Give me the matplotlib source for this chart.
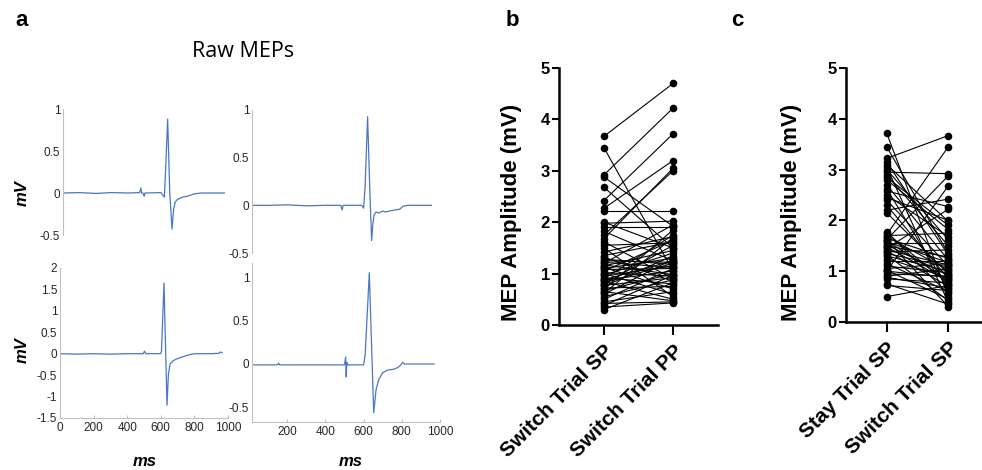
import matplotlib
matplotlib.use("Agg")
import matplotlib.pyplot as plt
import numpy as np

# ---------------- data ----------------
# Raw MEP traces (vertices): time in ms, amplitude in mV
tl_ms = [0, 100, 200, 300, 400, 470, 478, 482, 490, 498, 502, 510, 600, 615, 622, 630,
         642, 655, 669, 678, 688, 700, 731, 760, 806, 850, 990]
tl_mv = [0, 0.005, -0.005, 0.005, 0, 0.005, 0.06, 0.0, 0.0, -0.04, 0.0, 0, 0.005, -0.03,
         -0.05, 0.3, 0.88, 0.0, -0.43, -0.2, -0.11, -0.08, -0.05, -0.04, -0.01, 0.0, 0.0]

tr_ms = [20, 100, 200, 300, 400, 480, 488, 492, 500, 590, 600, 608, 621, 632, 642, 648,
         655, 665, 680, 700, 715, 735, 760, 790, 800, 806, 830, 955]
tr_mv = [0, 0.0, 0.005, -0.005, 0.0, 0.0, -0.05, 0.0, 0.0, 0.0, -0.03, 0.2, 0.93, 0.2,
         -0.37, -0.2, -0.1, -0.07, -0.08, -0.06, -0.07, -0.06, -0.05, -0.04, -0.02, -0.01,
         0.0, 0.0]

bl_ms = [0, 100, 200, 300, 400, 495, 503, 510, 598, 604, 619, 628, 637, 645, 655, 675,
         696, 732, 774, 800, 900, 945, 955, 965]
bl_mv = [0, -0.01, 0.0, -0.01, 0.0, 0.0, 0.06, 0.0, 0.0, 0.05, 1.65, 0.2, -1.2, -0.5,
         -0.24, -0.16, -0.12, -0.07, -0.02, 0.0, 0.0, 0.01, 0.04, 0.02]

br_ms = [20, 150, 155, 160, 300, 400, 500, 506, 509, 512, 515, 600, 608, 630, 642, 653,
         665, 679, 700, 726, 758, 780, 795, 805, 812, 830, 968]
br_mv = [-0.01, -0.01, 0.01, -0.01, -0.01, -0.01, -0.01, 0.08, -0.15, 0.02, -0.01, -0.01,
         0.1, 1.05, 0.2, -0.56, -0.3, -0.18, -0.1, -0.07, -0.06, -0.04, -0.01, 0.02, 0.0,
         0.0, 0.0]

# Per-subject MEP amplitudes (mV)
switch_sp = [3.67, 3.45, 2.92, 2.88, 2.68, 2.42, 2.27, 2.22, 1.98, 1.82, 1.75, 1.68, 1.62,
             1.55, 1.50, 1.42, 1.32, 1.28, 1.25, 1.22, 1.20, 1.17, 1.15, 1.12, 1.10, 1.08,
             1.05, 1.02, 1.00, 0.97, 0.95, 0.92, 0.90, 0.87, 0.85, 0.82, 0.80, 0.77, 0.75,
             0.72, 0.70, 0.67, 0.65, 0.60, 0.55, 0.50, 0.45, 0.42, 0.38, 0.35, 0.30, 1.35,
             1.90, 2.00, 0.62, 0.88]
switch_pp = [4.70, 1.05, 4.22, 1.92, 1.50, 3.72, 3.20, 2.22, 2.02, 1.25, 3.00, 3.05, 0.90,
             1.60, 0.55, 1.72, 0.85, 1.18, 1.22, 1.12, 1.95, 0.98, 1.45, 0.70, 1.30, 1.10,
             1.65, 0.95, 0.60, 1.40, 1.15, 0.80, 1.75, 1.05, 0.50, 1.20, 1.55, 0.92, 1.35,
             0.75, 1.85, 1.00, 0.47, 1.28, 0.88, 1.10, 0.65, 0.45, 0.97, 0.43, 0.82, 1.62,
             1.90, 1.50, 1.70, 1.25]
stay_sp = [3.22, 1.72, 2.95, 1.62, 1.00, 2.20, 2.58, 1.45, 3.10, 2.80, 1.70, 2.50, 3.00,
           1.55, 2.90, 1.38, 3.15, 1.50, 1.65, 2.70, 1.20, 1.58, 1.05, 1.42, 2.40, 1.35,
           0.90, 1.68, 1.30, 1.10, 2.15, 1.52, 0.95, 1.25, 2.30, 1.60, 1.48, 0.85, 1.75,
           0.50, 1.40, 0.88, 2.62, 1.15, 1.78, 3.72, 1.02, 1.32, 3.05, 0.75, 1.62, 3.45,
           2.85, 2.45, 0.72, 1.00]

b_labels = ["Switch Trial SP", "Switch Trial PP"]
c_labels = ["Stay Trial SP", "Switch Trial SP"]

# ---------------- figure ----------------
W, H = 982, 470
fig = plt.figure(figsize=(W / 100, H / 100), dpi=100)

def px_axes(left, top, right, bottom):
    return fig.add_axes([left / W, (H - bottom) / H, (right - left) / W, (bottom - top) / H])

trace_col = "#4a76c6"
spine_col = "#c0c0c0"
tick_txt = "#262626"
mfont = "Liberation Sans"

def matlab_style(ax, xaxis):
    for s in ["top", "right"]:
        ax.spines[s].set_visible(False)
    ax.spines["left"].set_color(spine_col)
    ax.spines["left"].set_linewidth(0.8)
    if xaxis:
        ax.spines["bottom"].set_color(spine_col)
        ax.spines["bottom"].set_linewidth(0.8)
    else:
        ax.spines["bottom"].set_visible(False)
        ax.set_xticks([])
    ax.tick_params(axis="y", length=0, pad=2, labelsize=8.5, labelcolor=tick_txt)
    ax.tick_params(axis="x", direction="in", length=2.5, color=spine_col, pad=3,
                   labelsize=8.5, labelcolor=tick_txt)
    for lab in ax.get_xticklabels() + ax.get_yticklabels():
        lab.set_fontfamily(mfont)
    ax.patch.set_alpha(0)

def fmt(v):
    return "%g" % v

# top-left
ax1 = px_axes(63, 109, 226, 235)
ax1.plot(tl_ms, tl_mv, color=trace_col, lw=0.9)
ax1.set_xlim(0, 1000)
ax1.set_ylim(-0.5, 1)
ax1.set_yticks([-0.5, 0, 0.5, 1])
ax1.set_yticklabels([fmt(v) for v in [-0.5, 0, 0.5, 1]])
matlab_style(ax1, False)

# top-right
ax2 = px_axes(252, 110, 440, 253)
ax2.plot(tr_ms, tr_mv, color=trace_col, lw=0.9)
ax2.set_xlim(15.8, 1000)
ax2.set_ylim(-0.5, 1)
ax2.set_yticks([-0.5, 0, 0.5, 1])
ax2.set_yticklabels([fmt(v) for v in [-0.5, 0, 0.5, 1]])
matlab_style(ax2, False)

# bottom-left
ax3 = px_axes(60, 268, 228, 418)
ax3.plot(bl_ms, bl_mv, color=trace_col, lw=0.9)
ax3.set_xlim(0, 1000)
ax3.set_ylim(-1.5, 2)
yt = [-1.5, -1, -0.5, 0, 0.5, 1, 1.5, 2]
ax3.set_yticks(yt)
ax3.set_yticklabels([fmt(v) for v in yt])
ax3.set_xticks([0, 200, 400, 600, 800, 1000])
matlab_style(ax3, True)

# bottom-right
ax4 = px_axes(252, 263, 440, 422)
ax4.plot(br_ms, br_mv, color=trace_col, lw=0.9)
ax4.set_xlim(15.8, 1000)
ax4.set_ylim(-0.667, 1.161)
yt = [-0.5, 0, 0.5, 1]
ax4.set_yticks(yt)
ax4.set_yticklabels([fmt(v) for v in yt])
ax4.set_xticks([200, 400, 600, 800, 1000])
matlab_style(ax4, True)

# panel a annotations
fig.text(243 / W, 1 - 52 / H, "Raw MEPs", ha="center", va="center",
         fontsize=15.5, family="Open Sans")
for yy in (193, 350):
    fig.text(22 / W, 1 - yy / H, "mV", rotation=90, ha="center", va="center",
             fontsize=12, fontweight="bold", fontstyle="italic", family=mfont)
for xx in (145, 351):
    fig.text(xx / W, 1 - 461 / H, "ms", ha="center", va="center",
             fontsize=12, fontweight="bold", fontstyle="italic", family=mfont)

for lab, xx in (("a", 22), ("b", 512), ("c", 737)):
    fig.text(xx / W, 1 - 21 / H, lab, ha="center", va="center",
             fontsize=16, fontweight="bold", family=mfont)

# paired plots
def paired(ax, left_vals, right_vals, labels, xlim):
    for a, b in zip(left_vals, right_vals):
        ax.plot([0, 1], [a, b], color="black", lw=0.8, zorder=2)
    ax.scatter(np.zeros(len(left_vals)), left_vals, s=30, color="black", zorder=3,
               linewidths=0)
    ax.scatter(np.ones(len(right_vals)), right_vals, s=30, color="black", zorder=3,
               linewidths=0)
    ax.set_xlim(*xlim)
    ax.set_ylim(0, 5)
    ax.set_yticks([0, 1, 2, 3, 4, 5])
    ax.set_xticks([0, 1])
    ax.set_xticklabels(labels, rotation=45, ha="right", va="top",
                       rotation_mode="anchor", fontsize=15, fontweight="bold",
                       family=mfont)
    for s in ["top", "right"]:
        ax.spines[s].set_visible(False)
    for s in ["left", "bottom"]:
        ax.spines[s].set_linewidth(1.8)
    ax.tick_params(axis="y", length=5, width=1.5, pad=1.5, labelsize=12)
    ax.tick_params(axis="x", length=7, width=1.5, pad=5)
    for lab in ax.get_yticklabels():
        lab.set_fontweight("bold")
        lab.set_fontfamily(mfont)
    ax.patch.set_alpha(0)
    for sp in ax.spines.values():
        sp.set_clip_on(False)

axb = px_axes(559, 68, 718, 325)
paired(axb, switch_sp, switch_pp, b_labels, (-0.65, 1.65))
axc = px_axes(846, 68, 981, 322)
paired(axc, stay_sp, switch_sp, c_labels, (-0.66, 1.53))

for xx in (512, 792):
    fig.text(xx / W, 1 - 212 / H, "MEP Amplitude (mV)", rotation=90, ha="center",
             va="center", fontsize=16, fontweight="bold", family=mfont)

fig.savefig("out.png", dpi=100)
